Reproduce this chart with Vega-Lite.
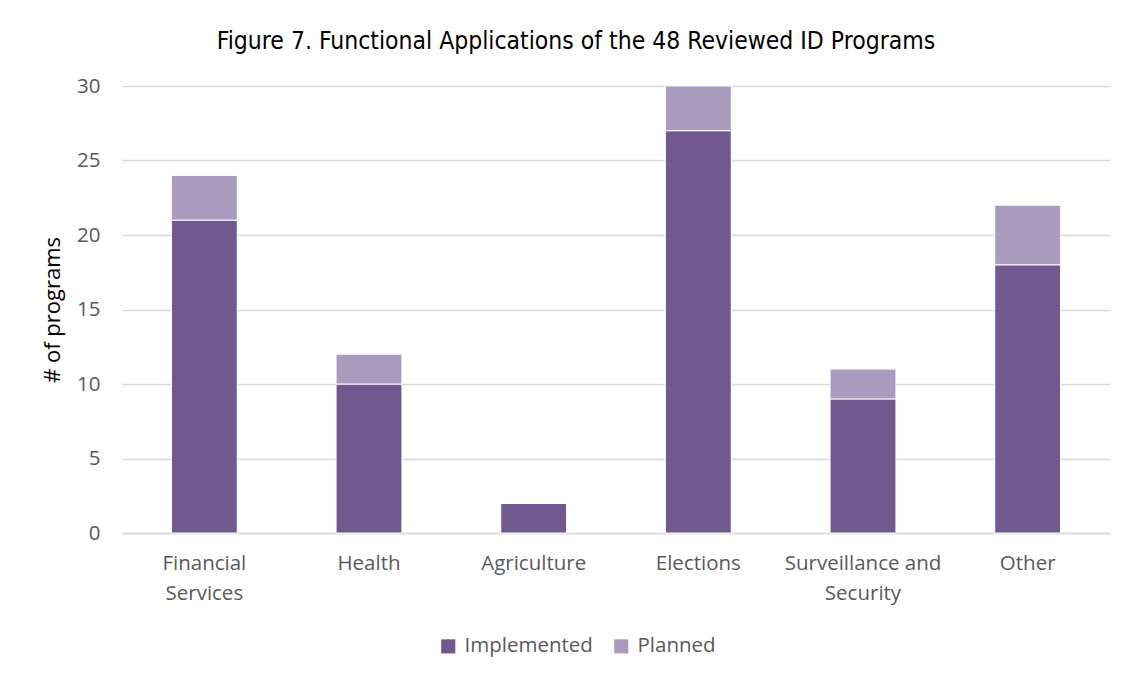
{
  "$schema": "https://vega.github.io/schema/vega-lite/v6.json",
  "autosize": "none",
  "width": 988,
  "height": 447,
  "padding": {"left": 122, "top": 86, "right": 19, "bottom": 150},
  "background": "white",
  "title": {
    "text": "Figure 7. Functional Applications of the 48 Reviewed ID Programs",
    "font": "DejaVu Sans Condensed",
    "fontSize": 24.5,
    "fontWeight": "normal",
    "color": "#000000",
    "anchor": "middle",
    "dx": -40,
    "offset": 22
  },
  "data": {
    "values": [
      {"category": "Financial Services", "status": "Implemented", "count": 21},
      {"category": "Financial Services", "status": "Planned", "count": 3},
      {"category": "Health", "status": "Implemented", "count": 10},
      {"category": "Health", "status": "Planned", "count": 2},
      {"category": "Agriculture", "status": "Implemented", "count": 2},
      {"category": "Agriculture", "status": "Planned", "count": 0},
      {"category": "Elections", "status": "Implemented", "count": 27},
      {"category": "Elections", "status": "Planned", "count": 3},
      {"category": "Surveillance and Security", "status": "Implemented", "count": 9},
      {"category": "Surveillance and Security", "status": "Planned", "count": 2},
      {"category": "Other", "status": "Implemented", "count": 18},
      {"category": "Other", "status": "Planned", "count": 4}
    ]
  },
  "mark": {"type": "bar", "stroke": "white", "strokeWidth": 1},
  "encoding": {
    "x": {
      "field": "category",
      "type": "nominal",
      "sort": null,
      "scale": {"paddingInner": 0.6, "paddingOuter": 0.3},
      "axis": {
        "title": null,
        "labelAngle": 0,
        "labelFont": "Open Sans",
        "labelFontSize": 20.5,
        "labelColor": "#595959",
        "labelLineHeight": 30,
        "labelPadding": 20,
        "ticks": false,
        "domainColor": "#d9d9d9",
        "domainWidth": 1.5,
        "labelExpr": "datum.label == 'Financial Services' ? ['Financial', 'Services'] : datum.label == 'Surveillance and Security' ? ['Surveillance and', 'Security'] : datum.label"
      }
    },
    "y": {
      "field": "count",
      "type": "quantitative",
      "stack": "zero",
      "scale": {"domain": [0, 30]},
      "axis": {
        "title": "# of programs",
        "titleFont": "Open Sans",
        "titleFontSize": 22,
        "titleFontWeight": "normal",
        "titleColor": "#000000",
        "titlePadding": 12,
        "values": [0, 5, 10, 15, 20, 25, 30],
        "labelFont": "Open Sans",
        "labelFontSize": 20.5,
        "labelColor": "#595959",
        "labelPadding": 22,
        "ticks": false,
        "domain": false,
        "gridColor": "#d9d9d9",
        "gridWidth": 1.5
      }
    },
    "color": {
      "field": "status",
      "type": "nominal",
      "scale": {"domain": ["Implemented", "Planned"], "range": ["#71588f", "#a99bbd"]},
      "legend": {
        "title": null,
        "orient": "none",
        "direction": "horizontal",
        "legendX": 316,
        "legendY": 550,
        "symbolType": "square",
        "symbolSize": 200,
        "symbolStrokeWidth": 0,
        "labelFont": "Open Sans",
        "labelFontSize": 20.5,
        "labelColor": "#595959",
        "labelOffset": 6,
        "columnPadding": 18
      }
    },
    "order": {"field": "status", "sort": "ascending"}
  },
  "config": {"view": {"stroke": null}}
}
